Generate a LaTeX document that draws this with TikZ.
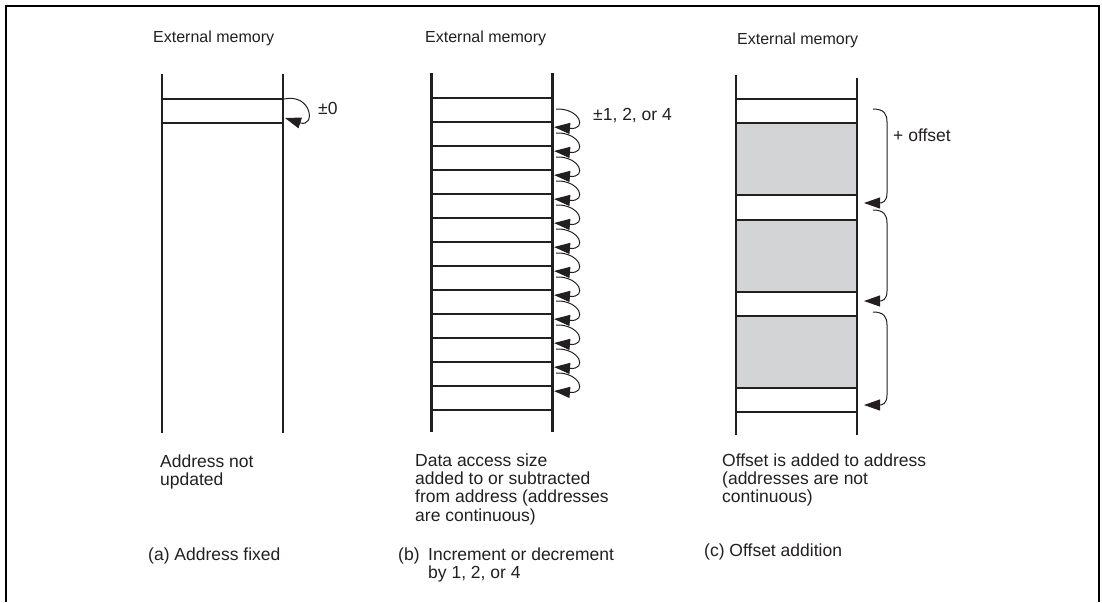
\documentclass[tikz,border=0pt]{standalone}
\usepackage{fontspec}
\setmainfont{Liberation Sans}
\usetikzlibrary{arrows.meta}
\definecolor{cellgray}{RGB}{211,212,214}
\definecolor{ink}{RGB}{35,31,32}
\tikzset{
  memline/.style={line width=2.2pt, draw=ink},
  rung/.style={line width=2pt, draw=ink},
  crung/.style={line width=1.3pt, draw=ink},
  looparrow/.style={line width=1pt, draw=ink, -{Triangle[length=16pt,width=11pt]}},
  lbl/.style={anchor=base west, inner sep=0pt, text=ink, font=\fontsize{17.5}{18.3}\selectfont},
  toplbl/.style={lbl, font=\fontsize{16}{18}\selectfont},
  frameline/.style={line width=2pt, draw=black}
}
\begin{document}
\begin{tikzpicture}[x=1pt,y=-1pt]
\useasboundingbox (0,0) rectangle (1102,602);
% frame
\draw[frameline] (6,602) -- (6,6) -- (1098.5,6) -- (1098.5,602);

% ---------- (a) ----------
\node[toplbl] (ta) at (153,42) {External memory};
\draw[memline] (162,74) -- (162,433);
\draw[memline] (283,74) -- (283,433);
\draw[rung] (162,99) -- (283,99);
\draw[rung] (162,123) -- (283,123);
\coordinate (as) at (284,99);
\coordinate (ae) at (285,118);
\draw[looparrow] (as) .. controls (312,93) and (316,128) .. (ae);
\node[lbl] (pa) at (318,114) {±0};
\node[lbl] (da1) at (160,467) {Address not};
\node[lbl] (da2) at (160,485.3) {updated};
\node[lbl] (ca) at (148,560) {(a) Address fixed};

% ---------- (b) ----------
\node[toplbl] (tb) at (425,42) {External memory};
\draw[memline] (431.5,73) -- (431.5,432);
\draw[memline] (552.5,73) -- (552.5,432);
\foreach \k in {0,...,13}{
  \draw[rung] (431.5,{98+24*\k}) -- (552.5,{98+24*\k});
}
\foreach \k in {0,...,11}{
  \pgfmathsetmacro\ya{98+24*\k+11}
  \pgfmathsetmacro\yb{98+24*(\k+1)+5}
  \coordinate (bs\k) at (556,\ya);
  \coordinate (be\k) at (554,\yb);
  \draw[looparrow] (bs\k) .. controls (580,{\ya-1}) and (588,{\yb+3}) .. (be\k);
}
\node[lbl] (pb) at (593,120) {±1, 2, or 4};
\node[lbl] (db1) at (415,466) {Data access size};
\node[lbl] (db2) at (415,484.3) {added to or subtracted};
\node[lbl] (db3) at (415,502.6) {from address (addresses};
\node[lbl] (db4) at (415,521) {are continuous)};
\node[lbl] (cb1) at (398,560) {(b)};
\node[lbl] (cb2) at (428,560) {Increment or decrement};
\node[lbl] (cb3) at (428,578) {by 1, 2, or 4};

% ---------- (c) ----------
\node[toplbl] (tc) at (737,45) {External memory};
\fill[cellgray] (737,123) rectangle (856,195);
\fill[cellgray] (737,220) rectangle (856,292);
\fill[cellgray] (737,316) rectangle (856,388);
\foreach \y in {99,123,195,220,292,316,388,412}{
  \draw[crung] (736,\y) -- (857,\y);
}
\draw[memline] (736,75) -- (736,435);
\draw[memline] (857,78) -- (857,435);
\foreach \i/\ys/\ye in {1/109/203, 2/210/301, 3/312/405}{
  \coordinate (cs\i) at (873,\ys);
  \coordinate (ce\i) at (864,\ye);
  \draw[looparrow] (cs\i) .. controls (884,{\ys}) and (887,{\ys+5}) .. (887,{\ys+13})
     -- (887,{\ye-10}) .. controls (887,{\ye-1}) and (882,\ye) .. (ce\i);
}
\node[lbl] (pc) at (893,141) {+ offset};
\node[lbl] (dc1) at (722,466) {Offset is added to address};
\node[lbl] (dc2) at (722,484.3) {(addresses are not};
\node[lbl] (dc3) at (722,502.6) {continuous)};
\node[lbl] (cc) at (704,556) {(c) Offset addition};
\end{tikzpicture}
\end{document}
